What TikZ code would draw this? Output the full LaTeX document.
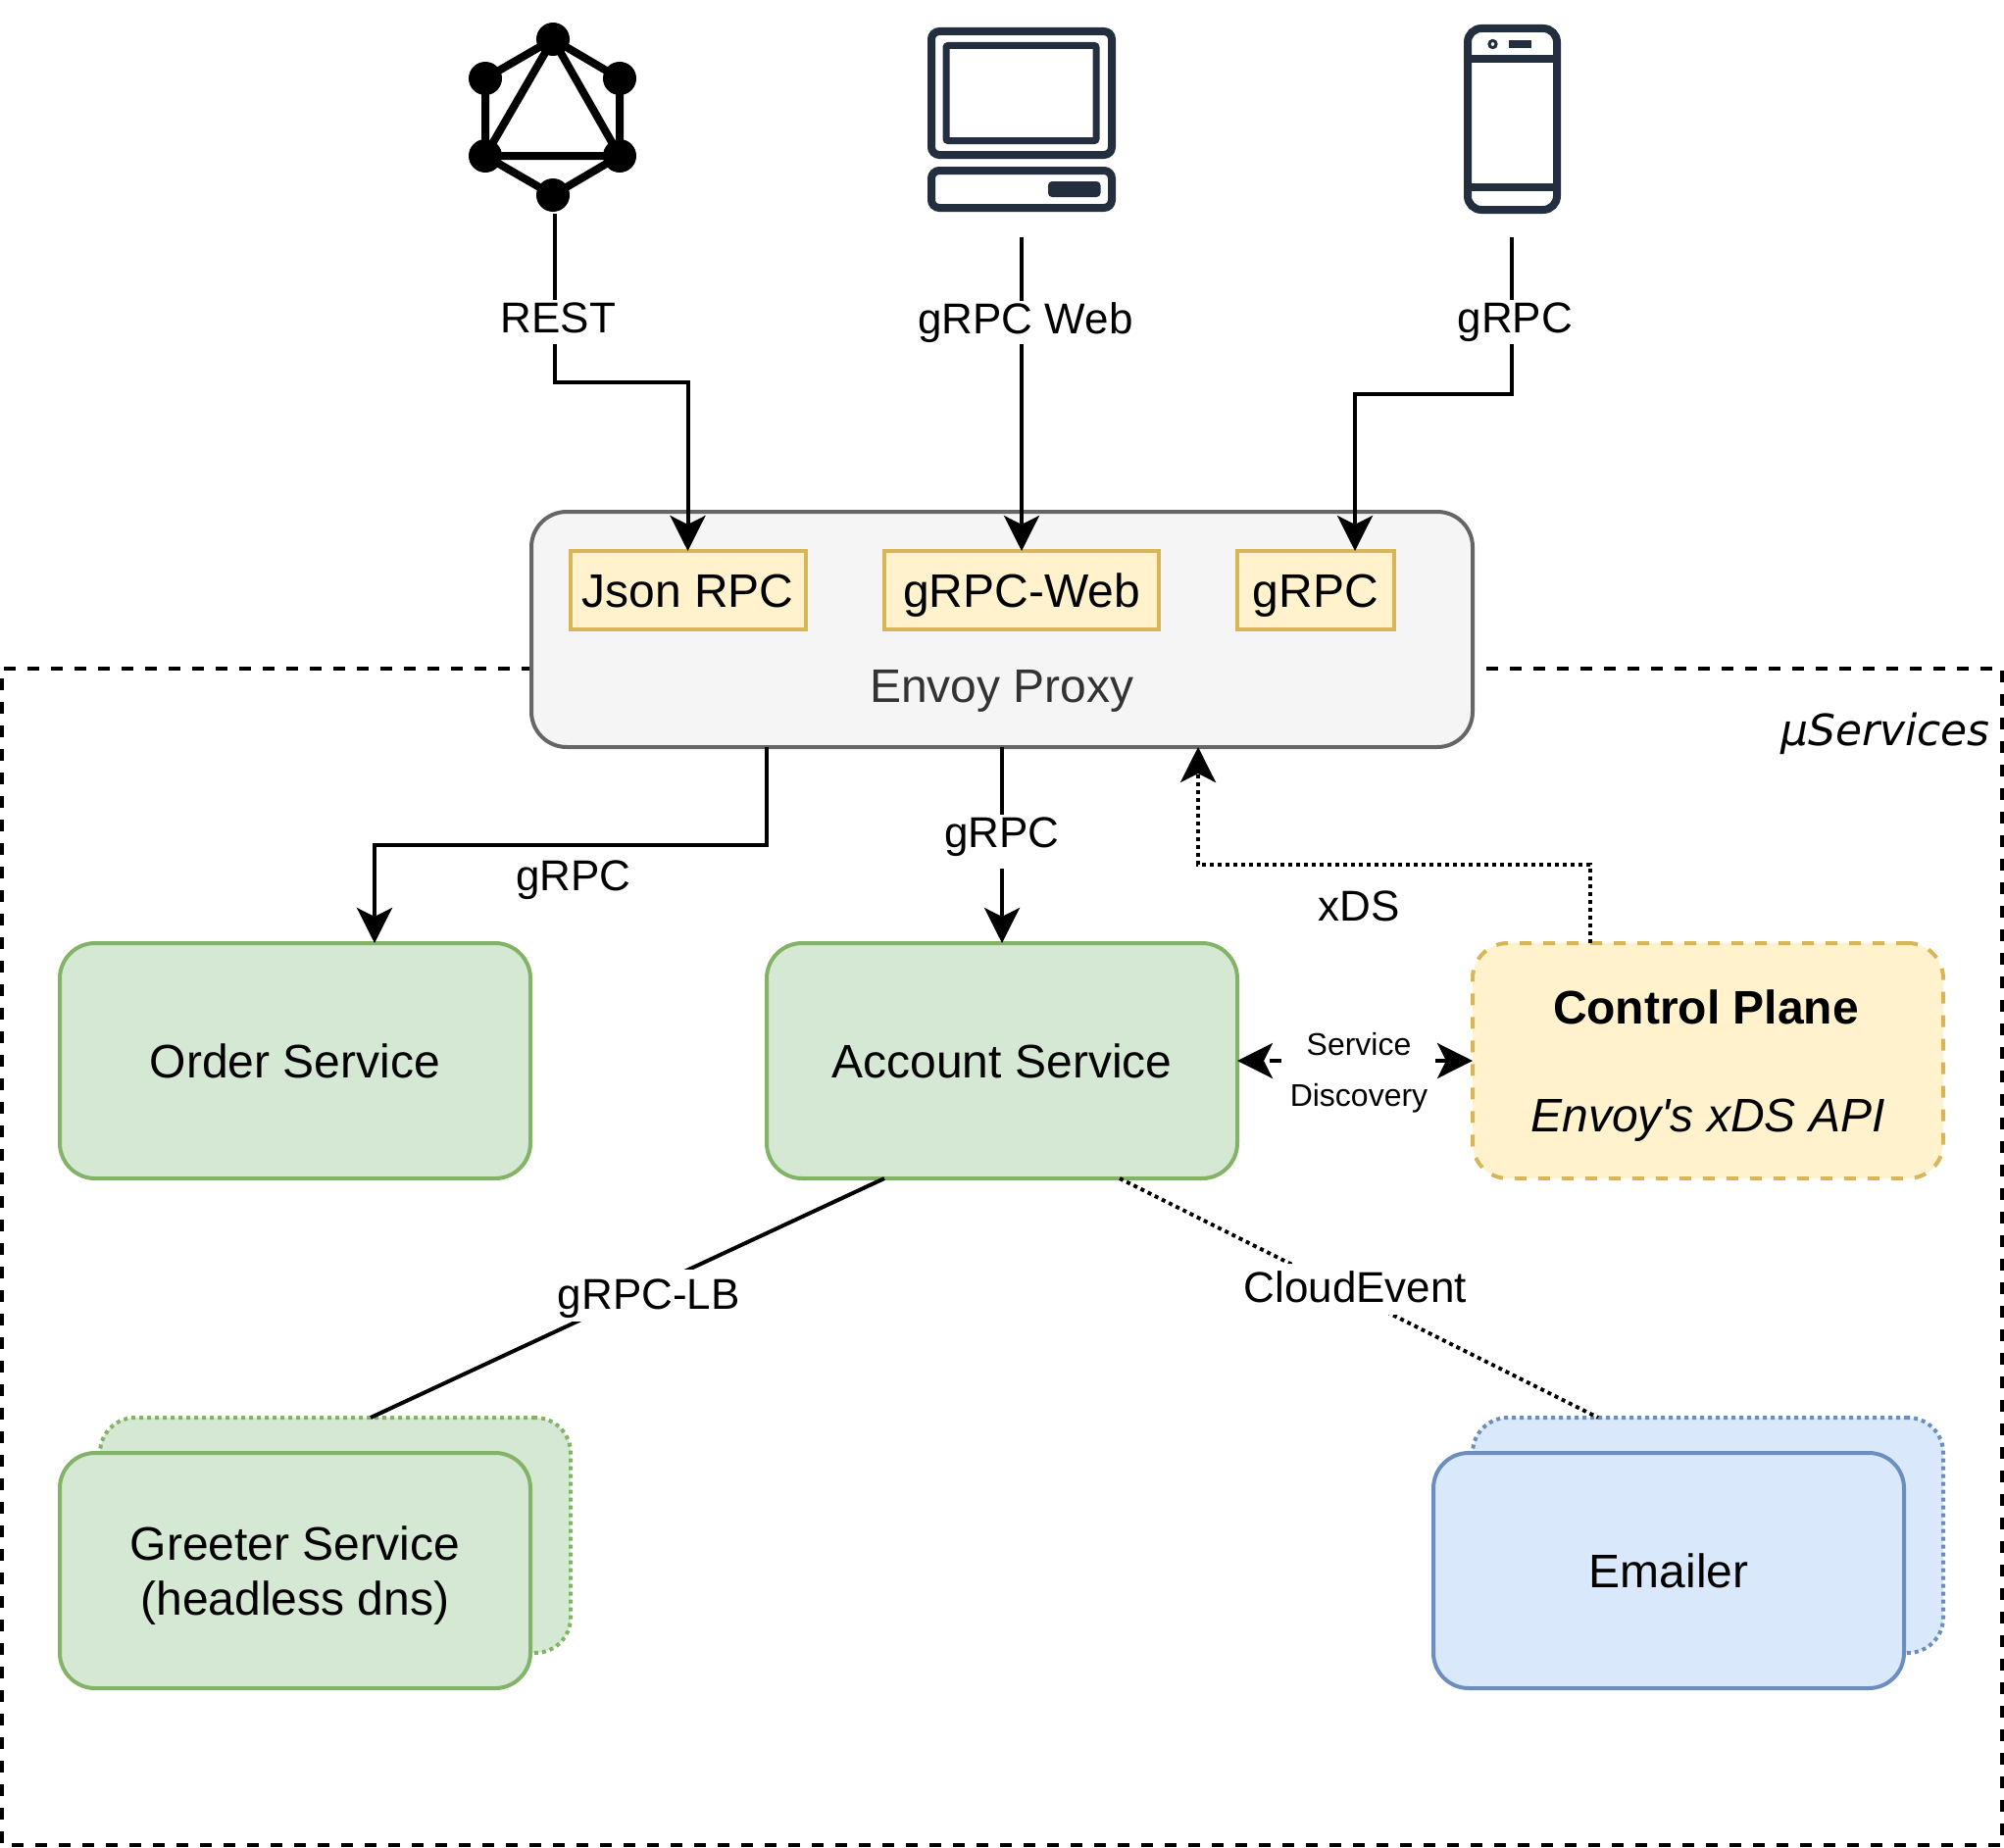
\documentclass[tikz,border=0pt]{standalone}
\usepackage{fontspec}
\setmainfont{Liberation Sans}
\newfontfamily\handfont{DejaVu Sans}
\usepackage{xcolor}
\usetikzlibrary{arrows.meta,positioning}

\definecolor{greenfill}{HTML}{D5E8D4}
\definecolor{greenline}{HTML}{82B366}
\definecolor{yellowfill}{HTML}{FFF2CC}
\definecolor{yellowline}{HTML}{D6B656}
\definecolor{bluefill}{HTML}{DAE8FC}
\definecolor{blueline}{HTML}{6C8EBF}
\definecolor{greyfill}{HTML}{F5F5F5}
\definecolor{greyline}{HTML}{666666}
\definecolor{icondark}{HTML}{232F3E}

\tikzset{
    box/.style={rectangle, rounded corners=18pt, draw, line width=2pt, minimum width=240pt, minimum height=120pt, align=center, inner sep=0pt, outer sep=0pt, text depth=0pt, font=\fontsize{24}{28}\selectfont},
    greenbox/.style={box, fill=greenfill, draw=greenline},
    bluebox/.style={box, fill=bluefill, draw=blueline},
    tag/.style={rectangle, draw=yellowline, fill=yellowfill, line width=2pt, minimum height=40pt, inner sep=0pt, outer sep=0pt, text height=17.2pt, text depth=0pt, font=\fontsize{24}{28}\selectfont},
    conn/.style={line width=2pt, -{Stealth[length=18pt, width=18pt, inset=4.5pt]}},
    dotline/.style={dash pattern=on 2pt off 2pt},
    lbl/.style={fill=white, inner xsep=1pt, inner ysep=1pt, text height=15.75pt, text depth=4.6pt, font=\fontsize{22}{26}\selectfont},
    lowlbl/.style={lbl, inner ysep=3pt, text height=17.05pt, text depth=3.3pt},
    iconline/.style={draw=icondark, line width=4pt, rounded corners=4pt},
    gnode/.style={circle, fill=black, minimum size=17pt, inner sep=0pt}
}

\begin{document}
\begin{tikzpicture}[x=0.5pt, y=-0.5pt]
    \useasboundingbox (0,0) rectangle (2044,1884);

    \node (services) at (1022,1282) [rectangle, draw, line width=2pt, dash pattern=on 6pt off 6pt, dash phase=7pt, minimum width=1020pt, minimum height=600pt] {};
    \node (serviceslabel) at (1923,748) [font=\fontsize{22}{26}\handfont\itshape, inner sep=0pt] {µServices};

    % clients
    \node (graphql) at (565.5,119) [minimum width=68pt, minimum height=99pt, inner sep=0pt] {};
    \node (desktop) at (1042,122) [minimum width=94pt, minimum height=120pt, inner sep=0pt] {};
    \node (phone) at (1542,122) [minimum width=49pt, minimum height=120pt, inner sep=0pt] {};

    \node (g1) at (564,40) [gnode] {};
    \node (g2) at (632,80) [gnode] {};
    \node (g3) at (632,159) [gnode] {};
    \node (g4) at (564,199) [gnode] {};
    \node (g5) at (495,159) [gnode] {};
    \node (g6) at (495,80) [gnode] {};
    \draw[line width=4pt, line join=round] (g1.center) -- (g2.center) -- (g3.center) -- (g4.center) -- (g5.center) -- (g6.center) -- cycle;
    \draw[line width=4pt, line join=round] (g1.center) -- (g3.center) -- (g5.center) -- cycle;

    \draw[iconline] (950,32) rectangle (1134,158);
    \draw[iconline, rounded corners=1pt, line width=3.5pt] (965,46.5) rectangle (1118,143.5);
    \draw[iconline] (950,174) rectangle (1134,212);
    \fill[icondark, rounded corners=2pt] (1069,185) rectangle (1122.5,201);

    \draw[iconline, rounded corners=7pt] (1497,29) rectangle (1588,214);
    \draw[iconline] (1497,60) -- (1588,60);
    \draw[iconline] (1497,191) -- (1588,191);
    \draw[icondark, line width=1.5pt] (1522.5,45) circle (1.8pt);
    \fill[icondark] (1539,41) rectangle (1562,49);

    % proxy
    \node (envoy) at (1022,642) [box, fill=greyfill, draw=greyline, minimum width=480pt] {};
    \node (envoylabel) at (1022,705) [text=black!80, font=\fontsize{24}{28}\selectfont, inner sep=0pt] {Envoy Proxy};
    \node (jsonrpc) at (701.5,602) [tag, minimum width=120pt] {Json RPC};
    \node (grpcweb) at (1042,602) [tag, minimum width=140pt] {gRPC-Web};
    \node (grpc) at (1342,602) [tag, minimum width=80pt] {gRPC};

    % services
    \node (order) at (301,1082) [greenbox] {Order Service};
    \node (account) [greenbox, right=360.5pt of order.center, anchor=center] {Account Service};
    \node (control) at (1742,1082) [box, fill=yellowfill, draw=yellowline, dash pattern=on 6pt off 6pt] {};
    \node (controltitle) at (1740,1027) [font=\fontsize{24}{28}\selectfont\bfseries, inner sep=0pt] {Control Plane};
    \node (controlapi) at (1742,1143) [font=\fontsize{24}{28}\selectfont\itshape, inner sep=0pt] {Envoy\textquotesingle s xDS API};

    \node (greeterback) at (342,1566) [greenbox, dotline] {};
    \node (greeter) at (301,1602) [greenbox] {Greeter Service\\(headless dns)};
    \node (emailerback) at (1742,1566) [bluebox, dotline] {};
    \node (emailer) at (1702,1602) [bluebox] {Emailer};

    % connectors
    \coordinate (restbend) at (565.5,390);
    \coordinate (grpcbend) at (1542,402);
    \coordinate (orderbend) at (782,862);
    \coordinate (xdsbend) at (1622,882);

    \draw[conn] (graphql.south) -- node[lbl, pos=0.64, xshift=2pt] {REST} (restbend) -| (jsonrpc.north);
    \draw[conn] (desktop.south) -- node[lbl, pos=0.271, xshift=2pt] {gRPC Web} (grpcweb.north);
    \draw[conn] (phone.south) -- node[lbl, pos=0.54, xshift=1.6pt] {gRPC} (grpcbend) -| ([xshift=20pt]grpc.north);
    \draw[conn] ([xshift=-120pt]envoy.south) -- (orderbend) -| ([xshift=40.5pt]order.north);
    \node (ordergrpc) at (585,897) [lbl, fill=none] {gRPC};
    \draw[conn] (envoy.south) -- node[lbl, pos=0.483, text depth=9.8pt] {gRPC} (account.north);
    \draw[conn, dotline] ([xshift=-60pt]control.north) -- (xdsbend) -| ([xshift=100pt]envoy.south);
    \node (xdslabel) at (1386,928) [lbl, fill=none] {xDS};
    \draw[line width=2pt, dash pattern=on 6pt off 6pt, dash phase=8.2pt, {Stealth[length=18pt, width=18pt, inset=4.5pt]}-{Stealth[length=18pt, width=18pt, inset=4.5pt]}] (account.east) -- node[fill=white, inner xsep=4pt, inner ysep=0pt, xshift=2pt, yshift=-6pt, align=center, font=\fontsize{16}{26}\selectfont] {Service\\Discovery} (control.west);
    \draw[line width=2pt] ([xshift=-60pt]account.south) -- node[lowlbl, pos=0.49, xshift=8.3pt] {gRPC-LB} ([xshift=18pt]greeterback.north);
    \draw[line width=2pt, dotline] ([xshift=60pt]account.south) -- node[lowlbl, pos=0.463, xshift=7.2pt] {CloudEvent} ([xshift=-56pt]emailerback.north);
\end{tikzpicture}
\end{document}
